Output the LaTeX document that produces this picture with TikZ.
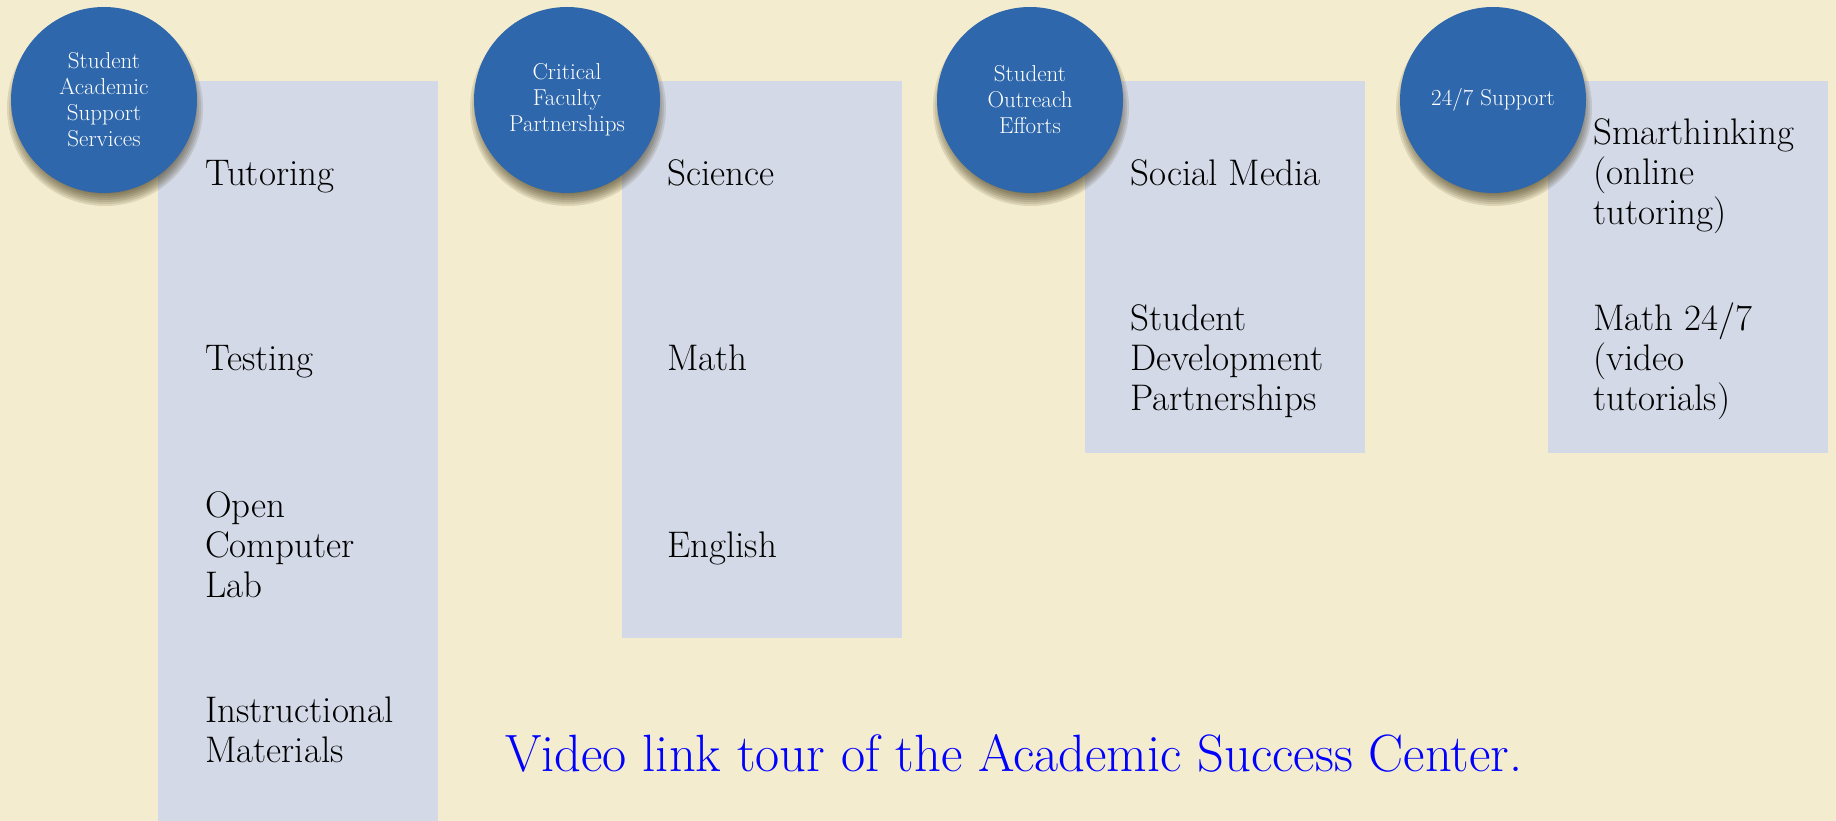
\documentclass[tikz,border=0pt]{standalone}
\usepackage{fontspec}
\definecolor{parch}{HTML}{F4ECCE}
\definecolor{boxc}{HTML}{D3D9E6}
\definecolor{circc}{HTML}{2E67AB}
\definecolor{linkc}{HTML}{0000FF}
\definecolor{shadc}{HTML}{3A2E10}
\tikzset{
  panel/.style={fill=boxc, draw=none, rectangle, inner sep=0pt, anchor=north west},
  topic/.style={circle, fill=circc, draw=none, inner sep=0pt, minimum size=186pt,
    align=center, text=white, font=\fontsize{23}{26}\selectfont},
  shadowlayer/.style={fill=shadc, opacity=0.12},
  item/.style={anchor=west, align=left, inner sep=0pt, text=black, font=\fontsize{37}{40}\selectfont},
  linktext/.style={inner sep=0pt, text=linkc, font=\fontsize{52.5}{60}\selectfont}
}
\begin{document}
\begin{tikzpicture}[x=1pt, y=-1pt]
\useasboundingbox (0,0) rectangle (1836,821);
\fill[parch] (0,0) rectangle (1836,821);
% panels
\node[panel, minimum width=280pt, minimum height=740pt] (p1) at (158,81) {};
\node[panel, minimum width=280pt, minimum height=557pt] (p2) at (622,81) {};
\node[panel, minimum width=280pt, minimum height=372pt] (p3) at (1085,81) {};
\node[panel, minimum width=280pt, minimum height=372pt] (p4) at (1548,81) {};
% circle centres
\coordinate (k1) at (104,100);
\coordinate (k2) at (567,100);
\coordinate (k3) at (1030,100);
\coordinate (k4) at (1493,100);
% shadows
\foreach \k in {k1,k2,k3,k4}{
  \foreach \r in {84,86,...,98}{
    \fill[shadowlayer] (\k) ++(1,8) circle[radius=\r pt];
  }
}
% circles
\node[topic] (c1) at (k1) {Student\\Academic\\Support\\Services};
\node[topic] (c2) at (k2) {Critical\\Faculty\\Partnerships};
\node[topic] (c3) at (k3) {Student\\Outreach\\Efforts};
\node[topic] (c4) at (k4) {24/7 Support};
% items column 1
\node[item] (t1) at (205,177) {Tutoring};
\node[item] (t2) at (205,362) {Testing};
\node[item] (t3) at (205,545) {Open\\Computer\\Lab};
\node[item] (t4) at (205,730) {Instructional\\Materials};
% column 2
\node[item] (s1) at (667,173) {Science};
\node[item] (s2) at (667,358) {Math};
\node[item] (s3) at (667,548) {English};
% column 3
\node[item] (o1) at (1130,173) {Social Media};
\node[item] (o2) at (1130,361) {Student\\Development\\Partnerships};
% column 4
\node[item] (h1) at (1593,176) {Smarthinking\\(online\\tutoring)};
\node[item] (h2) at (1593,361) {Math 24/7\\(video\\tutorials)};
% link
\node[linktext, anchor=base west] (lnk) at (505,771) {Video link tour of the Academic Success Center.};
\end{tikzpicture}
\end{document}
